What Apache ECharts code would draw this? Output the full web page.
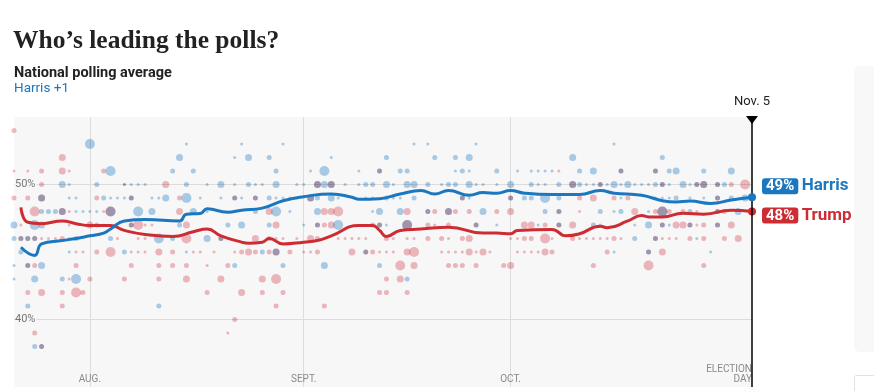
<!DOCTYPE html>
<html><head><meta charset="utf-8">
<script src="https://cdn.jsdelivr.net/npm/echarts@6/dist/echarts.min.js"></script>
<style>html,body{margin:0;padding:0;background:#fff}#c{width:874px;height:391px}</style>
</head><body><div id="c"></div>
<script>
// Day index 0 = Jul 21, 2024 ... 107 = Nov 5, 2024 (Election Day)
const startDate = new Date(2024, 6, 21);
const dayCount = 108;
const tickDays = [11, 42, 72, 107];
const tickLabels = ['AUG.', 'SEPT.', 'OCT.', 'ELECTION\nDAY'];
const yTickLabels = [40, 50];

// polling averages [day, pct]
const harrisAvg = [[1,45.35],[3,44.75],[4,45.6],[7,45.85],[9,46.0],[11,46.2],[13,46.4],[14,46.7],[16,47.3],[19,47.4],[24,47.3],[25,47.8],[27,47.85],[28,48.2],[31,47.95],[33,48.1],[36,48.25],[39,48.8],[42,49.1],[46,49.3],[49,49.05],[50,48.9],[53,48.95],[56,49.3],[59,49.55],[61,49.3],[63,49.55],[66,49.2],[68,49.4],[70,49.35],[72,49.55],[74,49.36],[78,49.26],[82,49.26],[85,49.55],[87,49.36],[91,49.2],[94,48.8],[96,48.7],[98,48.77],[101,48.6],[104,48.85],[107,49.06]];
const trumpAvg = [[1,48.3],[2,47.2],[4,47.1],[7,47.3],[9,47.1],[11,46.96],[14,46.96],[16,46.6],[19,46.3],[23,46.15],[26,46.5],[28,46.7],[30,46.2],[33,45.73],[34,45.65],[36,45.73],[37,46.0],[39,45.6],[42,45.73],[44,45.85],[46,46.2],[50,46.96],[52,46.96],[53,46.6],[54,46.15],[56,46.6],[59,46.7],[63,46.84],[68,46.4],[70,46.4],[72,46.35],[73,46.6],[78,46.67],[80,46.2],[82,46.35],[85,46.9],[86,46.8],[89,47.3],[91,47.7],[92,47.6],[94,47.6],[97,47.87],[100,47.8],[104,48.1],[107,48.0]];

// individual polls [day, pct, weight 1..4]
const harrisPolls = [
[11,53,4],[25,53,1],[33,53,1],[39,53,1],[58,53,1],[60,53,1],[67,53,1],[87,53,1],
[24,52,3],[32,52,1],[34,52,3],[37,52,2],[46,52,1],[54,52,2],[61,52,2],[64,52,2],[66,52,3],[81,52,3],[94,52,2],
[14,51,4],[23,51,2],[26,51,2],[38,51,2],[43,51,1],[45,51,4],[50,51,1],[53,51,2],[56,51,2],[57,51,2],[64,51,1],[65,51,2],[66,51,1],[70,51,2],[73,51,1],[75,51,1],[76,51,1],[77,51,1],[78,51,1],[82,51,2],[84,51,3],[88,51,2],[93,51,2],[95,51,2],[96,51,3],[100,51,2],[104,51,3],
[7,50,3],[8,50,1],[12,50,2],[16,50,1],[17,50,1],[18,50,1],[19,50,1],[25,50,2],[28,50,1],[30,50,3],[32,50,1],[34,50,2],[35,50,1],[36,50,1],[38,50,3],[41,50,1],[42,50,1],[44,50,3],[45,50,3],[46,50,3],[48,50,1],[50,50,1],[51,50,2],[52,50,2],[54,50,3],[55,50,1],[57,50,3],[58,50,3],[60,50,2],[62,50,1],[63,50,2],[64,50,2],[66,50,3],[67,50,1],[68,50,1],[70,50,1],[72,50,3],[75,50,2],[76,50,1],[77,50,1],[79,50,2],[81,50,3],[82,50,2],[83,50,1],[84,50,1],[85,50,2],[86,50,1],[87,50,3],[88,50,1],[89,50,3],[90,50,1],[91,50,1],[92,50,1],[93,50,2],[94,50,2],[95,50,1],[97,50,3],[98,50,1],[99,50,2],[100,50,3],[102,50,2],[103,50,2],
[4,49,3],[8,49,1],[9,49,1],[13,49,2],[14,49,1],[15,49,1],[16,49,1],[17,49,2],[20,49,1],[21,49,1],[22,49,3],[25,49,4],[27,49,1],[30,49,1],[32,49,2],[33,49,1],[35,49,2],[37,49,2],[38,49,1],[39,49,1],[40,49,1],[41,49,1],[43,49,3],[44,49,2],[46,49,3],[47,49,1],[51,49,1],[52,49,1],[54,49,2],[55,49,1],[56,49,1],[58,49,2],[65,49,2],[66,49,1],[72,49,2],[74,49,2],[75,49,2],[77,49,4],[79,49,2],[88,49,1],[93,49,1],[94,49,1],[95,49,1],[96,49,2],[98,49,1],[100,49,1],[102,49,2],[104,49,2],[106,49,3],[107,49,2],
[4,48,2],[5,48,2],[6,48,2],[7,48,3],[9,48,1],[10,48,1],[11,48,1],[12,48,1],[14,48,4],[18,48,4],[20,48,3],[26,48,3],[28,48,1],[35,48,2],[38,48,4],[40,48,1],[44,48,3],[52,48,1],[53,48,3],[56,48,3],[60,48,2],[63,48,3],[68,48,3],[77,48,2],[79,48,2],[85,48,2],[87,48,1],[88,48,2],[92,48,1],[94,48,4],[98,48,2],[102,48,2],[105,48,3],
[0,47,3],[3,47,4],[4,47,3],[12,47,2],[17,47,2],[24,47,2],[31,47,2],[33,47,3],[37,47,2],[42,47,1],[44,47,2],[47,47,4],[53,47,2],[54,47,1],[57,47,4],[67,47,2],[70,47,1],[76,47,1],[79,47,2],[84,47,2],[85,47,1],[90,47,1],[92,47,3],[94,47,2],[95,47,1],[98,47,2],[102,47,2],
[0,46,2],[1,46,2],[2,46,2],[3,46,2],[9,46,2],[14,46,2],[21,46,4],[23,46,2],[28,46,3],[30,46,2],[90,46,2],[93,46,2],[99,46,1],
[1,45,2],[8,45,1],[16,45,2],[25,45,1],[36,45,2],[38,45,3],[51,45,2],[87,45,1],[92,45,2],[101,45,1],
[0,44,1],[2,44,2],[4,44,3],[32,44,2],[39,44,2],[45,44,3],[53,44,2],
[0,43,1],[3,43,3],[7,43,2],[9,43,4],[57,43,2],
[2,41,2],[21,41,2],
[3,38,2],[4,38,2]
];
const trumpPolls = [
[0,54,2],
[7,52,3],
[0,51,1],[2,51,1],[4,51,2],[7,51,3],[8,51,1],[13,51,2],[53,51,2],[79,51,1],[88,51,2],[93,51,2],
[4,50,2],[16,50,1],[22,50,3],[44,50,3],[46,50,3],[81,50,3],[85,50,2],[94,50,2],[99,50,2],[100,50,3],[102,50,2],[104,50,2],[106,50,4],
[0,49,2],[2,49,2],[4,49,3],[12,49,2],[17,49,2],[24,49,2],[32,49,2],[35,49,2],[43,49,3],[65,49,2],[72,49,2],[82,49,2],[84,49,3],[87,49,2],[89,49,2],[102,49,2],
[3,48,4],[7,48,3],[8,48,1],[13,48,1],[14,48,4],[24,48,3],[37,48,3],[45,48,3],[46,48,3],[47,48,4],[57,48,3],[60,48,2],[61,48,2],[63,48,3],[64,48,2],[66,48,2],[70,48,2],[72,48,3],[79,48,2],[82,48,1],[90,48,3],[93,48,2],[94,48,4],[95,48,2],[97,48,2],[99,48,1],[102,48,2],[103,48,2],
[1,47,1],[8,47,1],[11,47,3],[13,47,1],[17,47,2],[18,47,4],[19,47,1],[20,47,1],[25,47,3],[38,47,3],[44,47,2],[45,47,2],[46,47,3],[52,47,2],[53,47,2],[57,47,4],[60,47,2],[61,47,1],[63,47,2],[67,47,2],[74,47,3],[75,47,3],[77,47,2],[79,47,2],[81,47,3],[94,47,2],[96,47,3],[97,47,3],[98,47,2],[99,47,1],[100,47,2],[102,47,2],[104,47,3],
[1,46,2],[2,46,2],[3,46,2],[4,46,1],[5,46,1],[6,46,1],[7,46,2],[8,46,1],[15,46,1],[18,46,1],[19,46,1],[25,46,4],[30,46,2],[35,46,3],[37,46,2],[38,46,1],[39,46,1],[41,46,1],[43,46,3],[44,46,2],[47,46,1],[48,46,1],[49,46,1],[50,46,1],[51,46,1],[54,46,2],[55,46,1],[57,46,1],[58,46,1],[60,46,2],[62,46,2],[63,46,1],[65,46,2],[66,46,3],[72,46,1],[73,46,1],[74,46,2],[75,46,2],[77,46,4],[78,46,1],[81,46,2],[82,46,1],[83,46,1],[84,46,1],[85,46,1],[86,46,1],[87,46,2],[88,46,1],[93,46,2],[94,46,1],[95,46,1],[96,46,1],[98,46,2],[100,46,2],[103,46,2],[105,46,3],
[9,45,1],[10,45,1],[12,45,2],[14,45,4],[17,45,1],[18,45,1],[19,45,1],[21,45,3],[23,45,2],[26,45,1],[27,45,1],[29,45,1],[32,45,1],[33,45,2],[34,45,3],[35,45,2],[37,45,2],[38,45,3],[40,45,2],[42,45,1],[43,45,1],[44,45,2],[49,45,3],[51,45,2],[52,45,2],[53,45,1],[54,45,1],[55,45,1],[57,45,3],[58,45,4],[62,45,1],[63,45,1],[64,45,1],[65,45,1],[66,45,3],[67,45,1],[68,45,3],[69,45,1],[73,45,1],[74,45,1],[75,45,1],[76,45,1],[77,45,3],[78,45,2],[86,45,2],[92,45,2],[94,45,3],
[2,44,2],[3,44,2],[9,44,2],[17,44,2],[21,44,2],[23,44,2],[25,44,2],[28,44,1],[31,44,2],[56,44,4],[58,44,3],[63,44,2],[64,44,2],[65,44,2],[67,44,2],[71,44,2],[72,44,3],[84,44,2],[92,44,4],[100,44,2],
[8,43,1],[11,43,2],[16,43,2],[21,43,2],[25,43,3],[30,43,3],[36,43,3],[38,43,4],[54,43,2],[56,43,3],
[2,42,2],[4,42,3],[7,42,2],[9,42,4],[10,42,2],[28,42,2],[33,42,3],[36,42,2],[39,42,2],[53,42,2],[54,42,2],[57,42,2],
[7,41,2],[38,41,2],[45,41,2],
[32,40,2],
[3,39,2],[31,39,1],
[4,38,2]
];

const categories = [];
for (let i = 0; i < dayCount; i++) {
  const d = new Date(startDate.getTime() + i * 86400000);
  categories.push(d.toLocaleDateString('en-US', {month: 'short', day: 'numeric'}));
}

const BLUE = '#1b77bf', RED = '#cd2c33';
const DOT_BLUE = 'rgba(90,160,215,0.62)', DOT_RED = 'rgba(226,100,112,0.55)';
const sizeFor = w => [0, 3, 5, 7, 10][w];
const lastH = harrisAvg[harrisAvg.length - 1][1];
const lastT = trumpAvg[trumpAvg.length - 1][1];
const lead = Math.round(lastH - lastT);
const electionIdx = dayCount - 1;

const chart = echarts.init(document.getElementById('c'), null, {renderer: 'canvas'});
chart.setOption({
  animation: false,
  title: [
    {text: 'Who\u2019s leading the polls?', left: 13, top: 28, padding: 0, textStyle: {fontFamily: 'Liberation Serif', fontWeight: 'bold', fontSize: 25.5, color: '#222'}},
    {text: 'National polling average', left: 14, top: 66, padding: 0, textStyle: {fontFamily: 'Roboto', fontWeight: 'bold', fontSize: 14.5, color: '#222'}},
    {text: (lead >= 0 ? 'Harris +' : 'Trump +') + Math.abs(lead), left: 14, top: 82, padding: 0, textStyle: {fontFamily: 'Roboto', fontWeight: 'normal', fontSize: 13.5, color: BLUE}}
  ],
  graphic: [
    {type: 'rect', left: 854, top: 66, shape: {width: 40, height: 286, r: 6}, style: {fill: '#f8f8f8'}, silent: true},
    {type: 'rect', left: 854, top: 375, shape: {width: 40, height: 30, r: 2}, style: {fill: '#fff', stroke: '#e2e2e2', lineWidth: 1}, silent: true}
  ],
  grid: {left: 14, right: 122, top: 117, bottom: 4, show: true, backgroundColor: '#f7f7f7', borderWidth: 0},
  xAxis: {
    type: 'category', data: categories, boundaryGap: false,
    axisLine: {show: false}, axisTick: {show: false},
    axisLabel: {
      inside: true, margin: 3, color: '#8a8a8a', fontFamily: 'Roboto', fontSize: 10, lineHeight: 10,
      interval: i => tickDays.includes(i),
      formatter: (v, i) => { const k = tickDays.indexOf(i); return k >= 0 ? tickLabels[k] : ''; },
      alignMaxLabel: 'right', showMaxLabel: true
    },
    splitLine: {show: true, interval: i => tickDays.slice(0, 3).includes(i), lineStyle: {color: '#dcdcdc', width: 1}}
  },
  yAxis: {
    type: 'value', min: 35, max: 55, interval: 5,
    axisLine: {show: false}, axisTick: {show: false},
    axisLabel: {inside: true, margin: 1, color: '#777', fontFamily: 'Roboto', fontSize: 11,
      backgroundColor: '#f7f7f7', padding: [0, 1, 0, 0],
      formatter: v => yTickLabels.includes(v) ? v + '%' : ''},
    splitLine: {show: true, lineStyle: {color: ['transparent', '#dcdcdc', 'transparent', '#dcdcdc', 'transparent'], width: 1}}
  },
  series: [
    {type: 'scatter', name: 'Trump polls', data: trumpPolls, symbolSize: v => sizeFor(v[2]),
      itemStyle: {color: DOT_RED}, blendMode: 'multiply', z: 2, silent: true},
    {type: 'scatter', name: 'Harris polls', data: harrisPolls, symbolSize: v => sizeFor(v[2]),
      itemStyle: {color: DOT_BLUE}, blendMode: 'multiply', z: 2, silent: true},
    {type: 'line', name: 'Trump', data: trumpAvg, smooth: 0.5, z: 4, silent: true,
      lineStyle: {color: RED, width: 3}, itemStyle: {color: RED},
      symbol: 'circle', showSymbol: true, symbolSize: (v, p) => p.dataIndex === trumpAvg.length - 1 ? 8 : 0,
      endLabel: {show: true, distance: 10, offset: [0, 4],
        formatter: p => '{box|' + Math.round(p.value[1]) + '%} {nm|Trump}',
        rich: {box: {backgroundColor: RED, color: '#fff', fontFamily: 'Roboto', fontWeight: 'bold', fontSize: 15, padding: [1, 4, 0, 4], borderRadius: 3, lineHeight: 16},
               nm: {color: RED, fontFamily: 'Roboto', fontWeight: 'bold', fontSize: 17}}}},
    {type: 'line', name: 'Harris', data: harrisAvg, smooth: 0.5, z: 5, silent: true,
      lineStyle: {color: BLUE, width: 3}, itemStyle: {color: BLUE},
      symbol: 'circle', showSymbol: true, symbolSize: (v, p) => p.dataIndex === harrisAvg.length - 1 ? 8 : 0,
      endLabel: {show: true, distance: 10, offset: [0, -11],
        formatter: p => '{box|' + Math.round(p.value[1]) + '%} {nm|Harris}',
        rich: {box: {backgroundColor: BLUE, color: '#fff', fontFamily: 'Roboto', fontWeight: 'bold', fontSize: 15, padding: [1, 4, 0, 4], borderRadius: 3, lineHeight: 16},
               nm: {color: BLUE, fontFamily: 'Roboto', fontWeight: 'bold', fontSize: 17}}},
      markLine: {silent: true, symbol: ['none', 'none'], animation: false,
        lineStyle: {color: '#000', width: 1.5, type: 'solid'},
        emphasis: {disabled: true},
        label: {show: true, position: 'end', distance: 9, formatter: 'Nov. 5', color: '#222', fontFamily: 'Roboto', fontSize: 13},
        data: [[{coord: [electionIdx, 35]}, {coord: [electionIdx, 55]}]]},
      markPoint: {silent: true, animation: false, symbol: 'triangle', symbolRotate: 180, symbolSize: [12, 8], symbolOffset: [0, 3],
        itemStyle: {color: '#000'}, label: {show: false}, data: [{coord: [electionIdx, 55]}]}}
  ]
});
</script></body></html>
